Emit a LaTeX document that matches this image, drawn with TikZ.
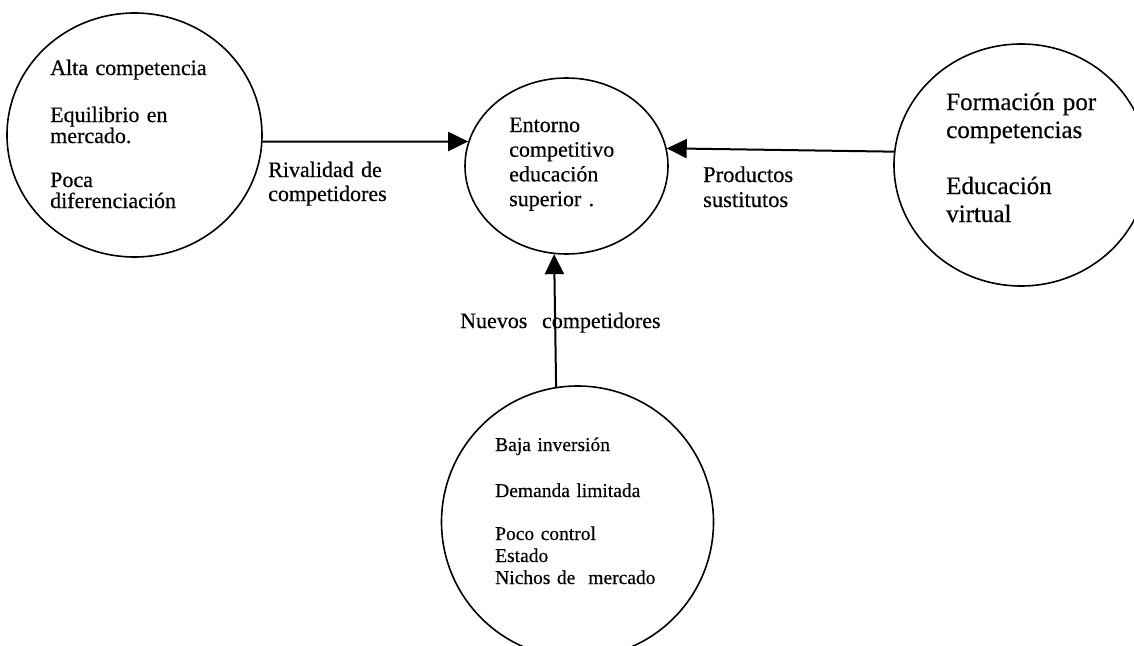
\documentclass[tikz,border=0pt]{standalone}
\usepackage{fontspec}
\setmainfont{Liberation Serif}[FakeBold=0.4,AutoFakeBold=false]
\usetikzlibrary{shapes.geometric,arrows.meta}
\begin{document}
\begin{tikzpicture}[x=1pt,y=-1pt,
  bubble/.style={draw=black,line width=1.6pt,ellipse,inner sep=0pt},
  conn/.style={line width=2pt,-{Triangle[length=20pt,width=19pt]}},
  txt/.style={anchor=base west,inner sep=0pt,align=left,text width=250pt},
]
\clip (0,0) rectangle (1134,645);
\fill[white] (0,0) rectangle (1134,645);

\node[bubble,minimum width=255pt,minimum height=244pt] (L) at (134.5,135) {};
\node[bubble,minimum width=203pt,minimum height=176pt] (C) at (566.5,166) {};
\node[bubble,minimum width=254pt,minimum height=242pt] (R) at (1021,165) {};
\node[bubble,circle,minimum size=272pt] (B) at (577.5,522) {};

\node[txt,font=\fontsize{22}{21}\selectfont] (Lt) at (50,75)
  {Alta competencia\\[26pt]Equilibrio en\\mercado.\\[23pt]Poca\\diferenciación};
\node[txt,font=\fontsize{22}{24.7}\selectfont] (Ct) at (509,132)
  {Entorno\\competitivo\\educación\\superior .};
\node[txt,font=\fontsize{25}{28}\selectfont] (Rt) at (946,110)
  {Formación por\\competencias\\[28pt]Educación\\virtual};
\node[txt,font=\fontsize{19.5}{22}\selectfont] (Bt) at (495,451)
  {Baja inversión\\[24pt]Demanda limitada\\[21pt]Poco control\\Estado\\Nichos de\ \ mercado};

\node[txt,font=\fontsize{22}{24}\selectfont] (e1) at (268,177) {Rivalidad de\\competidores};
\node[txt,font=\fontsize{22.5}{25}\selectfont] (e2) at (703,182) {Productos\\sustitutos};
\node[txt,font=\fontsize{22}{24}\selectfont] (e3) at (460,328) {Nuevos\ \ competidores};

\draw[conn] (L.-3.6) -- (C.166.8);
\draw[conn] (R.174.6) -- (C.10.85);
\draw[conn] (B.99.5) -- (C.262.5);
\end{tikzpicture}
\end{document}
